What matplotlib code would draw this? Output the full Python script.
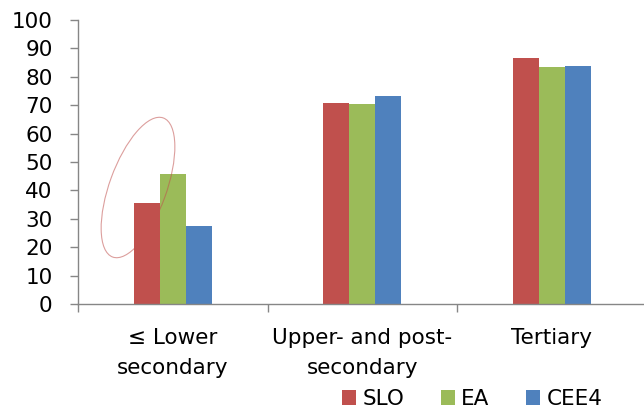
"""Employment rates by education: SLO vs EA vs CEE4."""
import matplotlib
matplotlib.use("Agg")
import matplotlib.pyplot as plt
from matplotlib.patches import Ellipse, Patch
import numpy as np

categories = ["\u2264 Lower\nsecondary", "Upper- and post-\nsecondary", "Tertiary"]
series_names = ["SLO", "EA", "CEE4"]
slo = [35.5, 70.9, 86.5]
ea = [45.7, 70.4, 83.3]
cee4 = [27.5, 73.1, 83.8]
yticks = [0, 10, 20, 30, 40, 50, 60, 70, 80, 90, 100]

colors = ["#C0504D", "#9BBB59", "#4F81BD"]
axis_grey = "#868686"
FS = 15.5

plt.rcParams["font.family"] = ["DejaVu Sans"]

fig = plt.figure(figsize=(6.44, 4.12), dpi=100)
ax = fig.add_axes([78 / 644, 108 / 412, 566 / 644, 284 / 412])

x = np.arange(len(categories))
w = 0.137
for i, (vals, c) in enumerate(zip([slo, ea, cee4], colors)):
    ax.bar(x + (i - 1) * w, vals, width=w, color=c, edgecolor="none", zorder=2)

ax.set_xlim(-0.5, -0.5 + 566 / 189.5)
ax.set_ylim(0, 100)
ax.set_yticks(yticks)
ax.tick_params(axis="y", length=5.8, width=1, color=axis_grey, labelsize=FS, pad=12.5)

ax.set_xticks(x)
ax.set_xticklabels(categories, fontsize=FS, linespacing=1.68)
ax.tick_params(axis="x", which="major", length=0, pad=17)
ax.set_xticks([-0.5, 0.5, 1.5], minor=True)
ax.tick_params(axis="x", which="minor", length=5.8, width=1, color=axis_grey)

for side in ["top", "right"]:
    ax.spines[side].set_visible(False)
for side in ["left", "bottom"]:
    ax.spines[side].set_color(axis_grey)
    ax.spines[side].set_linewidth(1.0)

# hand-drawn ellipse round the first group
ell = Ellipse((1.38, 2.245), 1.48, 0.57, angle=70, transform=fig.dpi_scale_trans,
              fill=False, edgecolor="#C0504D", lw=0.8, alpha=0.55, clip_on=False)
fig.add_artist(ell)

handles = [Patch(facecolor=c, edgecolor="none") for c in colors]
fig.legend(handles, series_names, loc="center", bbox_to_anchor=(472.5 / 644, 13 / 412),
           ncol=3, frameon=False, fontsize=FS, handlelength=0.64, handleheight=0.64,
           handletextpad=0.3, columnspacing=1.7, borderpad=0, borderaxespad=0)

fig.savefig("out.png", dpi=100)
